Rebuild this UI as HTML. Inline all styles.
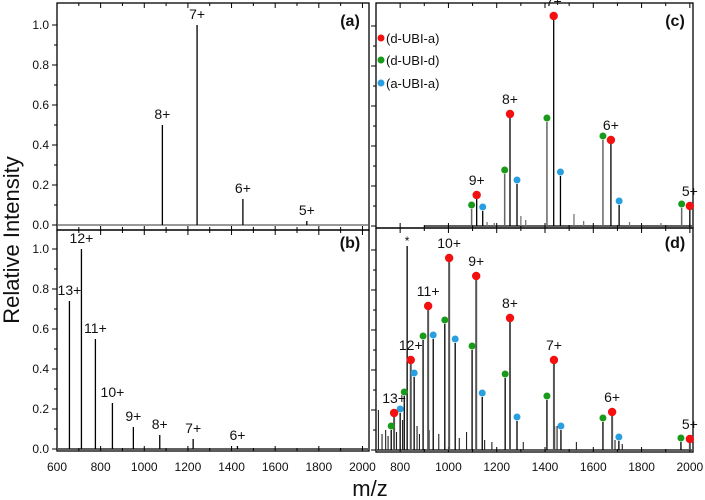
<!DOCTYPE html>
<html><head><meta charset="utf-8"><style>
html,body{margin:0;padding:0;background:#fff}
svg{display:block;font-family:"Liberation Sans",Arial,sans-serif}
</style></head><body>
<svg id="chart" width="705" height="500" viewBox="0 0 705 500"></svg>
<script>
// ---- data ----
const aMz=[1083,1242,1452,1745];
const aInt=[0.5,1.0,0.13,0.02];
const aLab=["8+","7+","6+","5+"];
const bMz=[657,712,776,854,950,1071,1224,1427];
const bInt=[0.74,1.0,0.55,0.23,0.11,0.07,0.05,0.015];
const bLab=["13+","12+","11+","10+","9+","8+","7+","6+"];
const cRedMz=[1117,1255,1436,1673,2000];
const cRedInt=[0.135,0.54,1.03,0.41,0.08];
const cLab=["9+","8+","7+","6+","5+"];
const cGreenMz=[1096,1233,1408,1640,1966];
const cGreenInt=[0.085,0.26,0.52,0.43,0.09];
const cBlueMz=[1142,1284,1464,1707];
const cBlueInt=[0.075,0.21,0.25,0.105];
const cMinorMz=[1160,1190,1300,1320,1520,1560,1750,1880];
const cMinorInt=[0.02,0.015,0.05,0.03,0.06,0.025,0.02,0.015];
const dRedMz=[775,844,916,1003,1115,1255,1437,1678,2000];
const dRedInt=[0.165,0.43,0.70,0.94,0.85,0.64,0.43,0.17,0.035];
const dLab=["13+","12+","11+","10+","9+","8+","7+","6+","5+"];
const dGreenMz=[763,817,895,985,1098,1235,1408,1640,1963];
const dGreenInt=[0.10,0.27,0.55,0.63,0.50,0.36,0.25,0.14,0.04];
const dBlueMz=[800,858,937,1028,1140,1284,1466,1706];
const dBlueInt=[0.185,0.365,0.555,0.535,0.265,0.145,0.10,0.045];
const dStarMz=[829];
const dStarInt=[1.02];
const dMinorMz=[710,725,740,750,785,810,870,880,920,960,1045,1075,1150,1180,1310,1440,1450,1530,1690,1720];
const dMinorInt=[0.2,0.08,0.1,0.07,0.09,0.15,0.12,0.08,0.1,0.08,0.06,0.09,0.05,0.04,0.04,0.12,0.12,0.04,0.05,0.03];
const leftTicks=[600,800,1000,1200,1400,1600,1800,2000];
const rightTicks=[800,1000,1200,1400,1600,1800,2000];
const yTicks=[0,0.2,0.4,0.6,0.8,1.0];
const yTickLabels=["0.0","0.2","0.4","0.6","0.8","1.0"];

const NS="http://www.w3.org/2000/svg";
const svg=document.getElementById('chart');
function el(t,a,p){const e=document.createElementNS(NS,t);for(const k in a)e.setAttribute(k,a[k]);(p||svg).appendChild(e);return e;}
function txt(x,y,s,size,extra){const t=el('text',Object.assign({x:x,y:y,'font-size':size,'text-anchor':'middle',fill:'#111'},extra||{}));t.textContent=s;return t;}

const panels={
 a:{x0:57,x1:369,y0:3,y1:230,mz0:600,mz1:2030,base:225},
 b:{x0:57,x1:369,y0:230,y1:451,mz0:600,mz1:2030,base:449},
 c:{x0:376,x1:693,y0:3,y1:228,mz0:700,mz1:2013,base:226},
 d:{x0:376,x1:693,y0:228,y1:452,mz0:700,mz1:2013,base:450}
};
function xs(p,m){return p.x0+(m-p.mz0)/(p.mz1-p.mz0)*(p.x1-p.x0);}
function ys(p,v){return p.base-v*200;}

function frame(key,name){
 const p=panels[key];
 const g=el('g',{});
 
 
 const r=el('rect',{x:p.x0,y:p.y0,width:p.x1-p.x0,height:p.y1-p.y0,fill:'none',stroke:'#000','stroke-width':1.3},g);
 
 
 for(let m=p.mz0+(key==='a'||key==='b'?0:100);m<=2000;m+=100){
  const x=xs(p,m),len=(m%200===0)?5:3;
  el('line',{x1:x,x2:x,y1:p.y1,y2:p.y1-len,stroke:'#000'},g);
  el('line',{x1:x,x2:x,y1:p.y0,y2:p.y0+len,stroke:'#000'},g);
 }
 for(let v=0;v<=1.05;v+=0.1){
  const y=ys(p,v),len=(Math.round(v*10)%2===0)?5:3;
  el('line',{x1:p.x0,x2:p.x0-len,y1:y,y2:y,stroke:'#000'},g);
 }
 return g;
}
function sticks(key,mz,it,color,name,w){
 const p=panels[key];
 for(let i=0;i<mz.length;i++){
  const l=el('line',{x1:xs(p,mz[i]),x2:xs(p,mz[i]),y1:p.base,y2:ys(p,it[i]),stroke:color,'stroke-width':w||1.3});
  
  
 }
}
function dots(key,mz,it,color,name,r){
 const p=panels[key];
 for(let i=0;i<mz.length;i++){
  const c=el('circle',{cx:xs(p,mz[i]),cy:ys(p,it[i])-4,r:r,fill:color});
  
  
 }
}
function labels(key,mz,it,lab,off,name){
 const p=panels[key];
 for(let i=0;i<mz.length;i++){
  const t=txt(xs(p,mz[i]),ys(p,it[i])-off,lab[i],14);
  
  
 }
}

frame('a','panel-a');frame('b','panel-b');frame('c','panel-c');frame('d','panel-d');

['a','b','c','d'].forEach(k=>{const p=panels[k];
 const l=el('line',{x1:(k==='c'?xs(p,900):p.x0+1),x2:p.x1-1,y1:p.base,y2:p.base,stroke:k==='a'?'#999':'#000','stroke-width':k==='a'?2:1.2});
 
 
});

sticks('a',aMz,aInt,'#000','peak-a',1.3);
labels('a',aMz,aInt,aLab,6,'charge-label-a');
sticks('b',bMz,bInt,'#000','peak-b',1.3);
labels('b',bMz,bInt,bLab,6,'charge-label-b');
sticks('c',cMinorMz,cMinorInt,'#777','minor-peak-c',1.3);
sticks('c',cGreenMz,cGreenInt,'#666','peak-c-green',1.5);
sticks('c',cBlueMz,cBlueInt,'#000','peak-c-blue',1.3);
sticks('c',cRedMz,cRedInt,'#000','peak-c-red',1.3);
dots('c',cGreenMz,cGreenInt,'#1a9a1a','marker-d-ubi-d-c',3.5);
dots('c',cBlueMz,cBlueInt,'#2a9fe0','marker-a-ubi-a-c',3.5);
dots('c',cRedMz,cRedInt,'#f21010','marker-d-ubi-a-c',4.2);
labels('c',cRedMz,cRedInt,cLab,14,'charge-label-c');
sticks('d',dMinorMz,dMinorInt,'#222','minor-peak-d',1.1);
sticks('d',dGreenMz,dGreenInt,'#000','peak-d-green',1.3);
sticks('d',dBlueMz,dBlueInt,'#000','peak-d-blue',1.3);
sticks('d',dRedMz,dRedInt,'#555','peak-d-red',2);
sticks('d',dStarMz,dStarInt,'#000','star-peak-d',1.3);
dots('d',dGreenMz,dGreenInt,'#1a9a1a','marker-d-ubi-d-d',3.5);
dots('d',dBlueMz,dBlueInt,'#2a9fe0','marker-a-ubi-a-d',3.5);
dots('d',dRedMz,dRedInt,'#f21010','marker-d-ubi-a-d',4.2);
labels('d',dRedMz,dRedInt,dLab,14,'charge-label-d');
{const p=panels.d;const t=txt(xs(p,dStarMz[0]),ys(p,dStarInt[0])-1,'*',12);
 
 }

[['a',350,26,'(a)'],['b',350,248,'(b)'],['c',675,26,'(c)'],['d',675,248,'(d)']].forEach(q=>{
 const t=txt(q[1],q[2],q[3],16,{'font-weight':'bold'});
 
 
});

['a','b'].forEach(k=>{const p=panels[k];
 for(let i=0;i<yTicks.length;i++){
  const t=txt(p.x0-8,ys(p,yTicks[i])+4,yTickLabels[i],12,{'text-anchor':'end'});
  
  
 }
});
leftTicks.forEach(m=>{const t=txt(xs(panels.b,m),471,String(m),12);
 
 });
rightTicks.forEach(m=>{const t=txt(xs(panels.d,m),471,String(m),12);
 
 });

[['#f21010','(d-UBI-a)',38],['#1a9a1a','(d-UBI-d)',60],['#2a9fe0','(a-UBI-a)',83]].forEach((l,i)=>{
 const c=el('circle',{cx:381,cy:l[2],r:3.5,fill:l[0]});
 
 
 const t=txt(386,l[2]+5,l[1],13,{'text-anchor':'start'});
 
 
});

{const t=txt(370,496,'m/z',22);
 
 
 const y=txt(19,240,'Relative Intensity',22,{transform:'rotate(-90 19 240)'});
 
 }
</script>
</body></html>
